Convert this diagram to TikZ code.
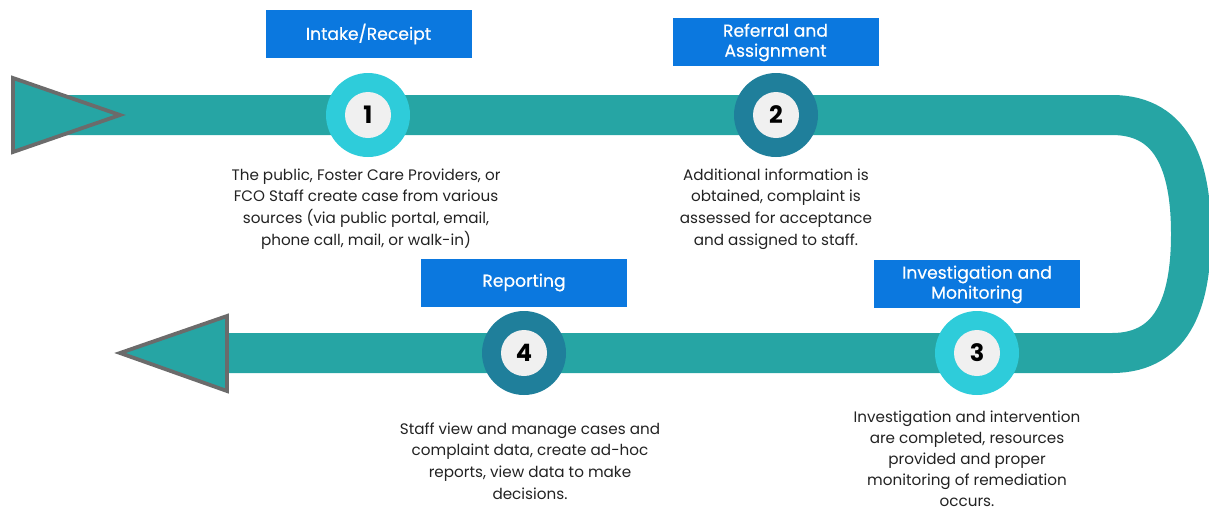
\documentclass[tikz,border=0pt]{standalone}
\usepackage{fontspec}
\setmainfont{Poppins}
\definecolor{band}{RGB}{38,165,164}
\definecolor{lightring}{RGB}{46,204,218}
\definecolor{darkring}{RGB}{31,127,155}
\definecolor{hub}{RGB}{240,240,240}
\definecolor{titlebox}{RGB}{11,120,223}
\definecolor{edgegray}{RGB}{107,107,107}
\definecolor{bodytext}{RGB}{34,34,34}
\begin{document}
\begin{tikzpicture}[x=1pt,y=-1pt,
  ring/.style={circle,minimum size=84pt,inner sep=0pt},
  hubdisc/.style={circle,fill=hub,minimum size=46pt,inner sep=0pt,
    font=\fontsize{24}{24}\selectfont\bfseries},
  title/.style={fill=titlebox,text=white,minimum width=206pt,minimum height=48pt,
    inner sep=2pt,align=center,
    font=\fontsize{17.2}{20}\selectfont\addfontfeature{FakeBold=0.5}},
  desc/.style={text=bodytext,align=center,inner sep=0.5pt,
    font=\fontsize{15.2}{21.6}\selectfont},
  pointer/.style={fill=band,draw=edgegray,line width=3.8pt,line join=miter}]
\useasboundingbox (0,0) rectangle (1209,512);
% the loop band: top run, rounded turn on the right, bottom run back
\draw[band,line width=40pt] (60,115) -- (1112,115)
  .. controls (1176,115) and (1191,172) .. (1191,234)
  .. controls (1191,296) and (1176,353) .. (1112,353) -- (200,353);
% start and end pointers
\draw[pointer] (13,78) -- (120,115) -- (13,152) -- cycle;
\draw[pointer] (227,316) -- (120,353) -- (227,391) -- cycle;
% numbered stages
\node[ring,fill=lightring] (c1) at (368,115) {};
\node[hubdisc] (n1) at (c1) {1};
\node[ring,fill=darkring] (c2) at (776,115) {};
\node[hubdisc] (n2) at (c2) {2};
\node[ring,fill=lightring] (c3) at (977,353) {};
\node[hubdisc] (n3) at (c3) {3};
\node[ring,fill=darkring] (c4) at (524,353) {};
\node[hubdisc] (n4) at (c4) {4};
% stage titles
\node[title] (t1) at (368.5,34) {Intake/Receipt};
\node[title] (t2) at (775.5,42) {\strut Referral and\\Assignment};
\node[title] (t3) at (977,284) {\strut Investigation and\\Monitoring};
\node[title] (t4) at (524,282.5) {Reporting};
% stage descriptions
\node[desc,anchor=north] (d1) at (366,168) {The public, Foster Care Providers, or\\FCO Staff create case from various\\sources (via public portal, email,\\phone call, mail, or walk-in)};
\node[desc,anchor=north] (d2) at (776,168) {Additional information is\\obtained, complaint is\\assessed for acceptance\\and assigned to staff.};
\node[desc,anchor=north,font=\fontsize{15.2}{21}\selectfont] (d3) at (967,410.5) {Investigation and intervention\\are completed, resources\\provided and proper\\monitoring of remediation\\occurs.};
\node[desc,anchor=north] (d4) at (530,422) {Staff view and manage cases and\\complaint data, create ad-hoc\\reports, view data to make\\decisions.};
\end{tikzpicture}
\end{document}
